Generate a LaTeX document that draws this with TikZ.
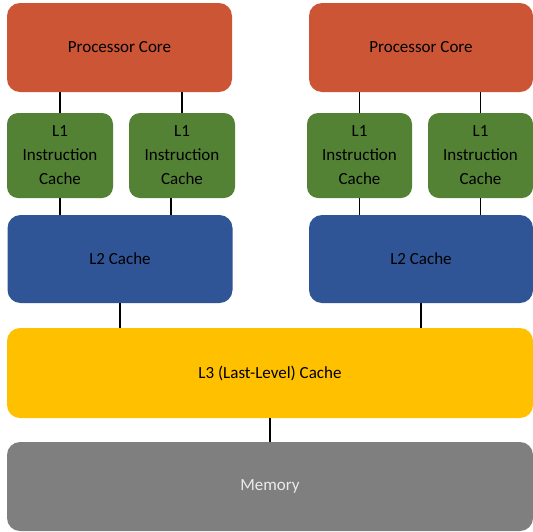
\documentclass[tikz,border=0pt]{standalone}
\usepackage{fontspec}
\setmainfont{Carlito}
\definecolor{corecol}{HTML}{CB5535}
\definecolor{lonecol}{HTML}{548235}
\definecolor{ltwocol}{HTML}{2F5597}
\definecolor{lthreecol}{HTML}{FFC000}
\definecolor{memcol}{HTML}{7F7F7F}
\tikzset{
  unit/.style={rounded corners=13pt, inner sep=0pt, align=center,
    font=\fontsize{17}{24}\selectfont, text=black},
  core/.style={unit, fill=corecol, minimum width=225pt, minimum height=89pt},
  lone/.style={unit, fill=lonecol, minimum width=106pt, minimum height=85pt, rounded corners=11pt},
  ltwo/.style={unit, fill=ltwocol, minimum width=225pt, minimum height=88pt},
  lthree/.style={unit, fill=lthreecol, minimum width=526pt, minimum height=90pt},
  mem/.style={unit, fill=memcol, minimum width=526pt, minimum height=89pt, text=white!92!black},
  link/.style={line width=1.6pt, black}
}
\begin{document}
\begin{tikzpicture}[x=1pt, y=-1pt]
  \useasboundingbox[fill=white] (0,0) rectangle (533,531);

  % processor cores
  \node[core] (pa) at (119.5,47.5) {Processor Core};
  \node[core, minimum width=224pt] (pb) at (421,47.5) {Processor Core};

  % first-level instruction caches
  \node[lone] (la) at (60,155.5) {L1\\Instruction\\Cache};
  \node[lone] (lb) at (182,155.5) {L1\\Instruction\\Cache};
  \node[lone, minimum width=105pt] (lc) at (359.5,155.5) {L1\\Instruction\\Cache};
  \node[lone, minimum width=105pt] (ld) at (480.5,155.5) {L1\\Instruction\\Cache};

  % second-level caches
  \node[ltwo] (ma) at (120,259) {L2 Cache};
  \node[ltwo, minimum width=224pt] (mb) at (421,259) {L2 Cache};

  % shared last-level cache and main memory
  \node[lthree] (lll) at (270,373) {L3 (Last-Level) Cache};
  \node[mem] (memory) at (270,486.5) {Memory};

  % core to L1
  \draw[link] (pa.south -| la.north) -- (la.north);
  \draw[link] (pa.south -| lb.north) -- (lb.north);
  \draw[link] (pb.south -| lc.north) -- (lc.north);
  \draw[link] (pb.south -| ld.north) -- (ld.north);

  % L1 to L2
  \draw[link] (la.south) -- (la.south |- ma.north);
  \draw[link] ([xshift=-11pt]lb.south) -- ([xshift=-11pt]lb.south |- ma.north);
  \draw[link] (lc.south) -- (lc.south |- mb.north);
  \draw[link] (ld.south) -- (ld.south |- mb.north);

  % L2 to L3
  \draw[link] (ma.south) -- (ma.south |- lll.north);
  \draw[link] (mb.south) -- (mb.south |- lll.north);

  % L3 to memory
  \draw[link] (lll.south) -- (memory.north);
\end{tikzpicture}
\end{document}
